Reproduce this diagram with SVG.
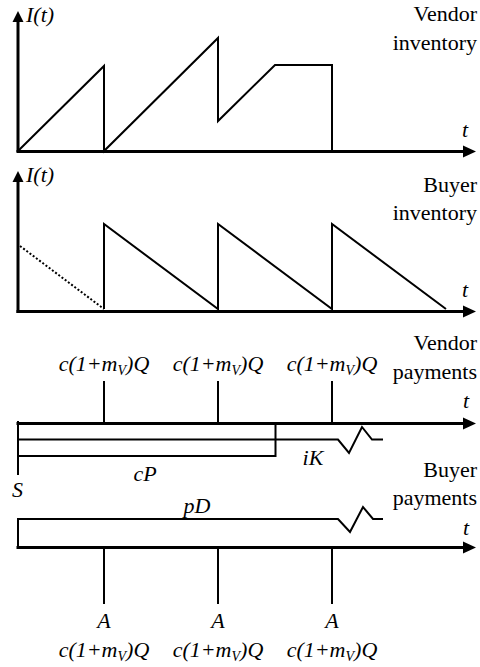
<svg xmlns="http://www.w3.org/2000/svg" width="480" height="667" viewBox="0 0 480 667" font-family="Times New Roman" font-size="22">
<rect width="480" height="667" fill="#fff"/>

<g id="vendor-inventory">
<g stroke="#000" fill="none">
<line stroke-width="3" x1="18" y1="152" x2="18" y2="20"/>
<line stroke-width="3" x1="16.5" y1="151.5" x2="465" y2="151.5"/>
<polyline stroke-width="2" points="18,151 104,66 104,151 218,38 218,121 275,65 332,65 332,151"/>
</g>
<polygon points="18,11 23.5,22 12.5,22" fill="#000"/>
<polygon points="476,151.5 463,145.5 463,157.5" fill="#000"/>
<text x="26" y="22" font-style="italic">I(t)</text>
<text x="462" y="137" font-style="italic">t</text>
<text x="477" y="21" text-anchor="end">Vendor</text>
<text x="477" y="50" text-anchor="end">inventory</text>
</g>

<g id="buyer-inventory">
<g stroke="#000" fill="none">
<line stroke-width="3" x1="18" y1="313" x2="18" y2="180"/>
<line stroke-width="3" x1="16.5" y1="311.5" x2="465" y2="311.5"/>
<line stroke-width="2" stroke-dasharray="2,2" x1="20" y1="246" x2="104" y2="309"/>
<polyline stroke-width="2" points="104,309 104,224 218,309 218,224 332,309 332,224 446,309"/>
</g>
<polygon points="18,171 23.5,182 12.5,182" fill="#000"/>
<polygon points="476,311.5 463,305.5 463,317.5" fill="#000"/>
<text x="26" y="182" font-style="italic">I(t)</text>
<text x="462" y="297" font-style="italic">t</text>
<text x="477" y="192" text-anchor="end">Buyer</text>
<text x="477" y="220" text-anchor="end">inventory</text>
</g>

<g id="vendor-payments">
<g stroke="#000" fill="none" stroke-width="2">
<line stroke-width="3" x1="16.5" y1="423.5" x2="465" y2="423.5"/>
<line x1="18" y1="421" x2="18" y2="475"/>
<line x1="104" y1="381" x2="104" y2="423"/>
<line x1="218" y1="381" x2="218" y2="423"/>
<line x1="332" y1="381" x2="332" y2="423"/>
<polyline points="18,456 275.5,456 275.5,423"/>
<polyline points="18,439.5 338,439.5 349,453 362,427 372,439.5 383,439.5"/>
</g>
<polygon points="476,423.5 463,417.5 463,429.5" fill="#000"/>
<text x="104" y="371" text-anchor="middle" font-style="italic">c(1+m<tspan dy="4" font-size="14">V</tspan><tspan dy="-4">)Q</tspan></text>
<text x="218" y="371" text-anchor="middle" font-style="italic">c(1+m<tspan dy="4" font-size="14">V</tspan><tspan dy="-4">)Q</tspan></text>
<text x="332" y="371" text-anchor="middle" font-style="italic">c(1+m<tspan dy="4" font-size="14">V</tspan><tspan dy="-4">)Q</tspan></text>
<text x="145" y="481" text-anchor="middle" font-style="italic">cP</text>
<text x="313" y="465" text-anchor="middle" font-style="italic">iK</text>
<text x="12" y="497" font-style="italic">S</text>
<text x="463" y="408" font-style="italic">t</text>
<text x="477" y="350" text-anchor="end">Vendor</text>
<text x="477" y="379" text-anchor="end">payments</text>
</g>

<g id="buyer-payments">
<g stroke="#000" fill="none" stroke-width="2">
<line stroke-width="3" x1="16.5" y1="547.5" x2="465" y2="547.5"/>
<line x1="18" y1="518.5" x2="18" y2="548"/>
<polyline points="17,519 338,519 350,532 363,507 373,519 383,519"/>
<line x1="104" y1="548" x2="104" y2="604"/>
<line x1="218" y1="548" x2="218" y2="604"/>
<line x1="332" y1="548" x2="332" y2="604"/>
</g>
<polygon points="476,547.5 463,541.5 463,553.5" fill="#000"/>
<text x="197" y="513" text-anchor="middle" font-style="italic">pD</text>
<text x="104" y="628" text-anchor="middle" font-style="italic">A</text>
<text x="218" y="628" text-anchor="middle" font-style="italic">A</text>
<text x="332" y="628" text-anchor="middle" font-style="italic">A</text>
<text x="104" y="657" text-anchor="middle" font-style="italic">c(1+m<tspan dy="4" font-size="14">V</tspan><tspan dy="-4">)Q</tspan></text>
<text x="218" y="657" text-anchor="middle" font-style="italic">c(1+m<tspan dy="4" font-size="14">V</tspan><tspan dy="-4">)Q</tspan></text>
<text x="332" y="657" text-anchor="middle" font-style="italic">c(1+m<tspan dy="4" font-size="14">V</tspan><tspan dy="-4">)Q</tspan></text>
<text x="463" y="535" font-style="italic">t</text>
<text x="477" y="477" text-anchor="end">Buyer</text>
<text x="477" y="505" text-anchor="end">payments</text>
</g>
</svg>
